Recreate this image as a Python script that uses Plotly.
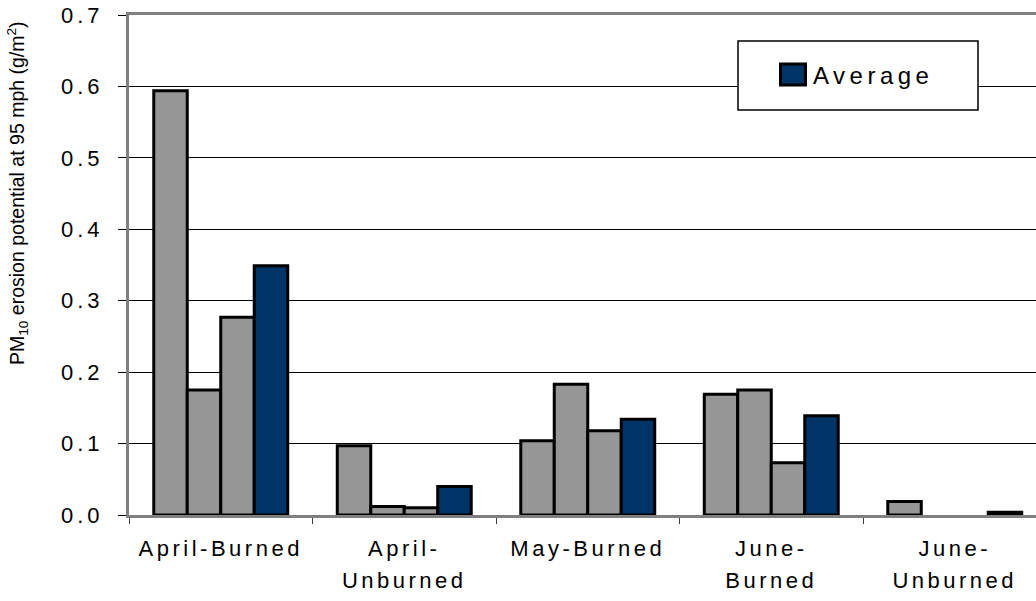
import plotly.graph_objects as go

categories = ["April-Burned", "April-<br>Unburned", "May-Burned", "June-<br>Burned", "June-<br>Unburned"]
plot1 = [0.594, 0.097, 0.104, 0.169, 0.019]
plot2 = [0.175, 0.012, 0.183, 0.175, 0.0]
plot3 = [0.277, 0.010, 0.118, 0.073, 0.0]
average = [0.349, 0.040, 0.134, 0.139, 0.004]
y_ticks = [0.0, 0.1, 0.2, 0.3, 0.4, 0.5, 0.6, 0.7]

GRAY = "#969696"
NAVY = "#003366"
FONT = "Arial, 'Liberation Sans', sans-serif"


def outline(vals):
    # a zero-height bar shows no outline in the reference
    return [3 if v > 0 else 0 for v in vals]


fig = go.Figure()
for vals in (plot1, plot2, plot3):
    fig.add_trace(go.Bar(x=categories, y=vals,
                         marker=dict(color=GRAY, line=dict(color="black", width=outline(vals))),
                         showlegend=False, name=""))
fig.add_trace(go.Bar(x=categories, y=average, name="Average",
                     marker=dict(color=NAVY, line=dict(color="black", width=outline(average)))))

W, H = 1036, 601
L, R, T, B = 129, 0, 15, 86
pw = W - L - R
cat_px = 183.5
xmax = -0.5 + pw / cat_px


def px_x(px):
    return (px - L) / pw


def px_y(py):
    return (H - B - py) / (H - T - B)


fig.update_layout(
    width=W, height=H,
    margin=dict(l=L, r=R, t=T, b=B, pad=0),
    paper_bgcolor="white", plot_bgcolor="white",
    barmode="group", bargap=0.27, bargroupgap=0,
    font=dict(family=FONT, color="black"),
    xaxis=dict(type="category", range=[-0.5, xmax], showline=True, linecolor="#808080", linewidth=3,
               mirror=True, ticks="outside", tickson="boundaries", ticklen=6, tickcolor="#404040",
               tickfont=dict(size=22, family=FONT), showgrid=False, automargin=False, fixedrange=True,
               ticklabelstandoff=12),
    yaxis=dict(range=[0, 0.7], tickvals=y_ticks, tickformat=".1f", showline=True, linecolor="#808080",
               linewidth=3, ticks="outside", ticklen=8, tickcolor="black", showgrid=True, gridcolor="black",
               gridwidth=1, zeroline=False, tickfont=dict(size=22, family=FONT), automargin=False,
               ticklabelstandoff=10),
    legend=dict(x=px_x(773), y=px_y(75), xanchor="left", yanchor="middle", bgcolor="rgba(0,0,0,0)",
                borderwidth=0, font=dict(size=24, family=FONT)),
    shapes=[dict(type="rect", xref="paper", yref="paper", x0=px_x(738), x1=px_x(978), y0=px_y(110), y1=px_y(41),
                 fillcolor="white", line=dict(color="black", width=1.5), layer="above")],
    annotations=[dict(text="PM<sub>10</sub> erosion potential at 95 mph (g/m<sup>2</sup>)", xref="paper", yref="paper",
                      x=px_x(17), y=px_y(193), xanchor="center", yanchor="middle", textangle=-90,
                      showarrow=False, font=dict(size=19.5, family=FONT))],
)

js = """
document.body.style.margin='0';
document.body.style.padding='0';
var gd = document.getElementById('{plot_id}');
gd.querySelectorAll('.xtick text').forEach(function(t){
  t.style.letterSpacing='3.5px';
  t.querySelectorAll('tspan.line').forEach(function(ts,i){ if(i>0) ts.setAttribute('dy','1.45em'); });
});
gd.querySelectorAll('.ytick text').forEach(function(t){ t.style.letterSpacing='4px'; });
gd.querySelectorAll('.legend .scrollbox').forEach(function(s){ s.removeAttribute('clip-path'); });
gd.querySelectorAll('.legend').forEach(function(s){ s.removeAttribute('clip-path'); });
gd.querySelectorAll('.legendtext').forEach(function(t){ t.style.letterSpacing='4.5px'; });
gd.querySelectorAll('.legendpoints path').forEach(function(p){ p.setAttribute('d','M12.5,10.5H-12.5V-10.5H12.5Z'); });
"""

fig.write_html("out.html", post_script=js, config={"displayModeBar": False})
